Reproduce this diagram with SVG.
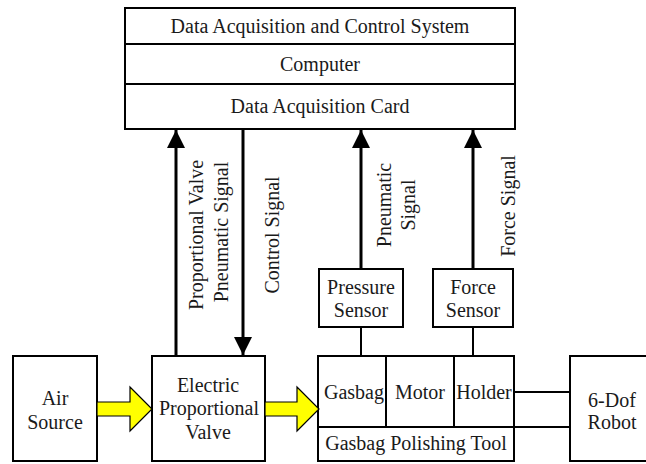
<svg xmlns="http://www.w3.org/2000/svg" width="646" height="464" viewBox="0 0 646 464">
  <defs>
    <style>
      .box { fill: #fff; stroke: #000; stroke-width: 2; }
      .div { stroke: #000; stroke-width: 2; fill: none; }
      .sig { stroke: #000; stroke-width: 3; fill: none; }
      .flow { fill: #ffff00; stroke: #000; stroke-width: 1.2; stroke-linejoin: miter; }
      .lbl { font-size: 20px; fill: #1a1a1a; text-anchor: middle; dominant-baseline: central; }
    </style>
    <marker id="head" viewBox="0 0 18 26" markerWidth="18" markerHeight="26" refX="18" refY="13" orient="auto" markerUnits="userSpaceOnUse">
      <path d="M0,4 L18,13 L0,22 Z" fill="#000"/>
    </marker>
  </defs>

  <g font-family="'Liberation Serif', 'Times New Roman', 'DejaVu Serif', serif">
  <!-- Controller stack -->
  <g id="daq-system">
    <rect class="box" x="125" y="8" width="390" height="121"/>
    <line class="div" x1="125" y1="44" x2="515" y2="44"/>
    <line class="div" x1="125" y1="84" x2="515" y2="84"/>
    <text class="lbl" x="320" y="26">Data Acquisition and Control System</text>
    <text class="lbl" x="320" y="64">Computer</text>
    <text class="lbl" x="320" y="106">Data Acquisition Card</text>
  </g>

  <g id="air-source">
    <rect class="box" x="13" y="356" width="84" height="105"/>
    <text class="lbl" x="55" y="398">Air</text>
    <text class="lbl" x="55" y="422">Source</text>
  </g>

  <g id="proportional-valve">
    <rect class="box" x="152" y="356" width="113" height="105"/>
    <text class="lbl" x="208" y="385">Electric</text>
    <text class="lbl" x="209" y="408">Proportional</text>
    <text class="lbl" x="208" y="432">Valve</text>
  </g>

  <g id="pressure-sensor">
    <rect class="box" x="319" y="269" width="84" height="58"/>
    <text class="lbl" x="361" y="287">Pressure</text>
    <text class="lbl" x="361" y="310">Sensor</text>
  </g>

  <g id="force-sensor">
    <rect class="box" x="433" y="269" width="80" height="58"/>
    <text class="lbl" x="473" y="287">Force</text>
    <text class="lbl" x="473" y="310">Sensor</text>
  </g>

  <g id="polishing-tool">
    <rect class="box" x="318" y="356" width="196" height="105"/>
    <line class="div" x1="318" y1="427" x2="514" y2="427"/>
    <line class="div" x1="386" y1="356" x2="386" y2="427"/>
    <line class="div" x1="454" y1="356" x2="454" y2="427"/>
    <text class="lbl" x="354" y="392">Gasbag</text>
    <text class="lbl" x="420" y="392">Motor</text>
    <text class="lbl" x="484" y="392" font-size="19">Holder</text>
    <text class="lbl" x="416" y="443">Gasbag Polishing Tool</text>
  </g>

  <g id="robot">
    <rect class="box" x="570" y="356" width="90" height="105"/>
    <text class="lbl" x="612" y="400">6-Dof</text>
    <text class="lbl" x="612" y="422">Robot</text>
  </g>

  <!-- Connectors -->
  <g id="connectors">
    <line class="sig" x1="176" y1="356" x2="176" y2="130" marker-end="url(#head)"/>
    <line class="sig" x1="243" y1="129" x2="243" y2="355" marker-end="url(#head)"/>
    <line class="sig" x1="361" y1="269" x2="361" y2="130" marker-end="url(#head)"/>
    <line class="sig" x1="473" y1="269" x2="473" y2="130" marker-end="url(#head)"/>
    <line class="div" x1="361" y1="327" x2="361" y2="356"/>
    <line class="div" x1="473" y1="327" x2="473" y2="356"/>
    <line class="div" x1="514" y1="392" x2="570" y2="392"/>
    <line class="div" x1="514" y1="427" x2="570" y2="427"/>
    <path class="flow" d="M97,402 L130,402 L130,387 L152,409 L130,431 L130,416 L97,416 Z"/>
    <path class="flow" d="M265,402 L297,402 L297,387 L319,409 L297,431 L297,416 L265,416 Z"/>
  </g>

  <!-- Signal labels -->
  <g id="signal-labels">
    <text class="lbl" transform="translate(196,235) rotate(-90)">Proportional Valve</text>
    <text class="lbl" transform="translate(221,232) rotate(-90)">Pneumatic Signal</text>
    <text class="lbl" transform="translate(272,235) rotate(-90)">Control Signal</text>
    <text class="lbl" transform="translate(384,205) rotate(-90)">Pneumatic</text>
    <text class="lbl" transform="translate(408,205) rotate(-90)">Signal</text>
    <text class="lbl" transform="translate(508,206) rotate(-90)">Force Signal</text>
  </g>
  </g>
</svg>
